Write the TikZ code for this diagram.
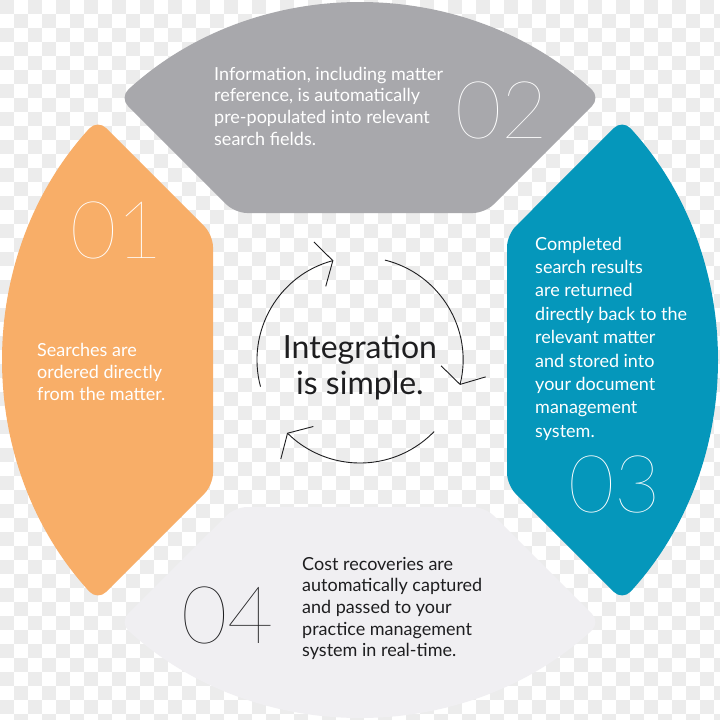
\documentclass[tikz,border=0pt]{standalone}
\usepackage{fontspec}
\IfFontExistsTF{Lato Regular}{\setmainfont{Lato Regular}}{\setmainfont{Lato}}
\IfFontExistsTF{Lato Hairline}{\newfontfamily\numfont{Lato Hairline}}{%
  \IfFontExistsTF{Lato Thin}{\newfontfamily\numfont{Lato Thin}}{%
    \IfFontExistsTF{Lato Light}{\newfontfamily\numfont{Lato Light}}{\newfontfamily\numfont{Lato}}}}
\usetikzlibrary{arrows.meta}
\definecolor{checker}{RGB}{236,236,236}
\definecolor{grayseg}{RGB}{168,168,172}
\definecolor{orangeseg}{RGB}{248,174,104}
\definecolor{blueseg}{RGB}{5,151,187}
\definecolor{whiteseg}{RGB}{240,239,242}
\definecolor{darktext}{RGB}{30,30,32}
\tikzset{
  seg/.style={rounded corners=12pt},
  bodytext/.style={inner sep=0pt, anchor=north west, align=left, font=\fontsize{18}{21.7}\selectfont},
  numtext/.style={inner sep=0pt, anchor=base west, font=\numfont\fontsize{80}{80}\selectfont},
  cyc/.style={line width=0.9pt, draw=darktext, -{Straight Barb[length=13.5pt,width=46pt]}}
}
\begin{document}
\begin{tikzpicture}[x=1pt,y=-1pt]
\useasboundingbox (0,0) rectangle (720,720);
% checkerboard background
\fill[white] (0,0) rectangle (720,720);
\begin{scope}
\clip (0,0) rectangle (720,720);
\foreach \j in {0,...,51}{
  \pgfmathtruncatemacro{\off}{mod(\j,2)}
  \foreach \i in {0,2,...,50}{
    \fill[checker] ({(\i+\off)*14},{\j*14}) rectangle ++(14,14);
  }
}
\end{scope}
% segments
\coordinate (C) at (360,360);
\fill[grayseg,seg] (235,213) -- ([shift={(C)}]227.5:356) arc[start angle=227.5,end angle=312.5,radius=356] -- (485,213) -- cycle;
\fill[orangeseg,seg] (213,235) -- ([shift={(C)}]222.5:356) arc[start angle=222.5,end angle=137.5,radius=356] -- (213,485) -- cycle;
\fill[blueseg,seg] (507,235) -- ([shift={(C)}]-42.5:356) arc[start angle=-42.5,end angle=42.5,radius=356] -- (507,485) -- cycle;
\fill[whiteseg,seg] (485,507) -- ([shift={(C)}]47.5:356) arc[start angle=47.5,end angle=132.5,radius=356] -- (235,507) -- cycle;
% texts
\node[bodytext,text=white] (t2) at (214,66.7) {Information, including matter\\reference, is automatically\\pre-populated into relevant\\search fields.};
\node[numtext,text=white] (n2) at (455,138) {02};
\node[bodytext,text=white] (t1) at (37,343.4) {Searches are\\ordered directly\\from the matter.};
\node[numtext,text=white] (n1) at (70,258) {01};
\node[bodytext,text=white,font=\fontsize{18}{23.4}\selectfont] (t3) at (535,236.7) {Completed\\search results\\are returned\\directly back to the\\relevant matter\\and stored into\\your document\\management\\system.};
\node[numtext,text=white] (n3) at (568,512) {03};
\node[bodytext,text=darktext] (t4) at (302,556.7) {Cost recoveries are\\automatically captured\\and passed to your\\practice management\\system in real-time.};
\node[numtext,text=darktext] (n4) at (181,643) {04};
% center
\node[inner sep=0pt, anchor=north, align=center, text=darktext, font=\fontsize{32}{35.5}\selectfont] (mid) at (360,335) {Integration\\is simple.};
% cycle arrows
\coordinate (a1) at ([shift={(C)}]165:103);
\coordinate (a2) at ([shift={(C)}]284:103);
\coordinate (a3) at ([shift={(C)}]44:103);
\draw[cyc] (a1) arc[start angle=165,end angle=255,radius=103];
\draw[cyc] (a2) arc[start angle=284,end angle=374,radius=103];
\draw[cyc] (a3) arc[start angle=44,end angle=135,radius=103];
\end{tikzpicture}
\end{document}
